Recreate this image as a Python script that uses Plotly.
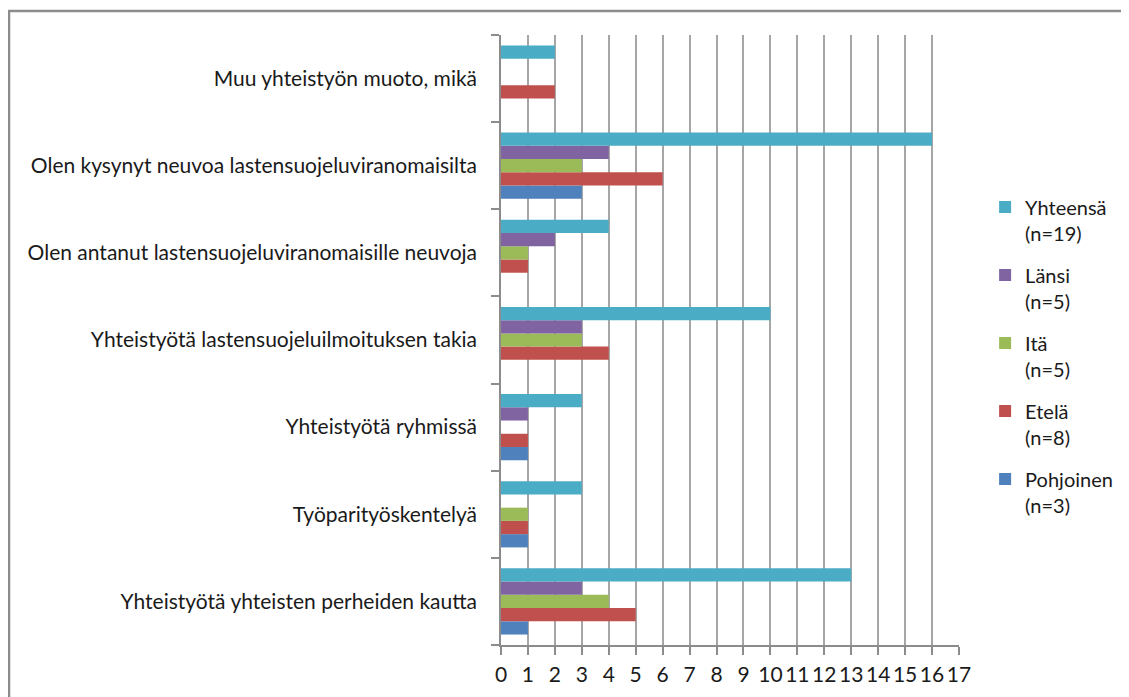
import plotly.graph_objects as go

categories = [
    "Yhteistyötä yhteisten perheiden kautta",
    "Työparityöskentelyä",
    "Yhteistyötä ryhmissä",
    "Yhteistyötä lastensuojeluilmoituksen takia",
    "Olen antanut lastensuojeluviranomaisille neuvoja",
    "Olen kysynyt neuvoa lastensuojeluviranomaisilta",
    "Muu yhteistyön muoto, mikä",
]

pohjoinen = [1, 1, 1, 0, 0, 3, 0]
etela = [5, 1, 1, 4, 1, 6, 2]
ita = [4, 1, 0, 3, 1, 3, 0]
lansi = [3, 0, 1, 3, 2, 4, 0]
yhteensa = [13, 3, 3, 10, 4, 16, 2]

series_names = ["Pohjoinen<br>(n=3)", "Etelä<br>(n=8)", "Itä<br>(n=5)", "Länsi<br>(n=5)", "Yhteensä<br>(n=19)"]
series_values = [pohjoinen, etela, ita, lansi, yhteensa]
series_colors = ["#4F81BD", "#C0504D", "#9BBB59", "#8064A2", "#4BACC6"]

x_ticks = list(range(0, 18))

FONT = "Lato"
FS = 21
LFS = 20

fig = go.Figure()
n = len(series_names)
for i, (name, vals, col) in enumerate(zip(series_names, series_values, series_colors)):
    fig.add_trace(go.Bar(
        y=categories, x=vals, name=name, orientation="h",
        marker=dict(color=col, line=dict(width=0)),
        legendgroup=f"g{i}", legendrank=n - i,
    ))

# page body has an 8px margin; figure is sized/offset to compensate
fig.update_layout(
    barmode="group",
    bargap=0.24,
    bargroupgap=0,
    width=1121, height=689,
    margin=dict(l=493, r=170, t=27, b=52, autoexpand=False),
    paper_bgcolor="white", plot_bgcolor="white",
    font=dict(family=FONT, size=FS, color="#1a1a1a"),
    showlegend=True,
    legend=dict(
        traceorder="grouped",
        tracegroupgap=13,
        x=1.057, xanchor="left", y=0.75, yanchor="top",
        valign="top",
        font=dict(family=FONT, size=LFS, color="#1a1a1a"),
        bgcolor="rgba(0,0,0,0)",
    ),
    xaxis=dict(
        range=[0, 17], tickmode="array", tickvals=x_ticks,
        ticktext=[str(v) for v in x_ticks],
        showgrid=True, gridcolor="#a6a6a6", gridwidth=1.5,
        showline=True, linecolor="#8c8c8c", linewidth=1.5,
        ticks="outside", ticklen=8, tickcolor="#8c8c8c", tickwidth=1.5,
        zeroline=False, ticklabelstandoff=2, automargin=False,
        tickfont=dict(family=FONT, size=FS, color="#1a1a1a"),
    ),
    yaxis=dict(
        type="category", categoryorder="array", categoryarray=categories,
        showgrid=False, showline=True, linecolor="#8c8c8c", linewidth=1.5,
        ticks="outside", ticklen=8, tickcolor="#8c8c8c", tickwidth=1.5,
        tickson="boundaries", ticklabelstandoff=18, automargin=False,
        tickfont=dict(family=FONT, size=FS, color="#1a1a1a"),
    ),
    shapes=[dict(
        type="rect", xref="paper", yref="paper",
        x0=(9 - 501) / 458, x1=(1140 - 501) / 458,
        y0=(645 - 710) / 610, y1=(645 - 11) / 610,
        line=dict(color="#8c8c8c", width=2.5), fillcolor="rgba(0,0,0,0)",
        layer="below",
    )],
)

fig.write_html("out.html")
